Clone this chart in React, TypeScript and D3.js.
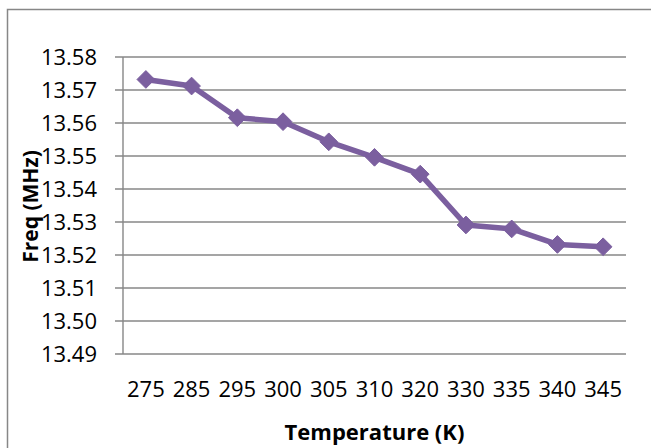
import React from "react";
import * as d3 from "d3";

const categories = ["275", "285", "295", "300", "305", "310", "320", "330", "335", "340", "345"];
const freqValues = [13.5732, 13.5712, 13.5616, 13.5604, 13.5543, 13.5496, 13.5445, 13.5291, 13.5279, 13.5232, 13.5225];
const yTicks = [13.49, 13.5, 13.51, 13.52, 13.53, 13.54, 13.55, 13.56, 13.57, 13.58];
const xTitle = "Temperature (K)";
const yTitle = "Freq (MHz)";

const W = 651;
const H = 448;
const M = { left: 123, right: 626, top: 57, bottom: 354 };
const FONT = "'Open Sans', sans-serif";
const PURPLE = "#7b5f9f";
const GRID = "#878787";

export default function App() {
  const x = d3.scaleBand<string>().domain(categories).range([M.left, M.right]);
  const y = d3.scaleLinear().domain([13.49, 13.58]).range([M.bottom, M.top]);
  const cx = (c: string) => (x(c) as number) + x.bandwidth() / 2;
  const line = d3
    .line<number>()
    .x((_, i) => cx(categories[i]))
    .y((d) => y(d));
  const diamond = d3.symbol().type(d3.symbolDiamond2).size(200)();

  return (
    <svg
      width={W}
      height={H}
      style={{ position: "absolute", left: 0, top: 0, background: "#fff" }}
    >
      <rect x={0} y={0} width={W} height={H} fill="#fff" />
      {/* outer chart border (cropped) */}
      <path d={`M7.5,${H}V9.5H${W}`} fill="none" stroke={GRID} strokeWidth={1.5} />
      {/* gridlines & y ticks */}
      {yTicks.map((t) => (
        <g key={t}>
          <line x1={M.left - 8} x2={M.right} y1={y(t)} y2={y(t)} stroke={GRID} strokeWidth={1.4} />
          <text
            x={97}
            y={y(t)}
            dy="0.36em"
            textAnchor="end"
            fontFamily={FONT}
            fontSize={22}
            fill="#000"
          >
            {t.toFixed(2)}
          </text>
        </g>
      ))}
      {/* y axis line */}
      <line x1={M.left} x2={M.left} y1={M.top} y2={M.bottom} stroke={GRID} strokeWidth={1.4} />
      {/* x labels */}
      {categories.map((c) => (
        <text
          key={c}
          x={cx(c)}
          y={397}
          textAnchor="middle"
          fontFamily={FONT}
          fontSize={22}
          fill="#000"
        >
          {c}
        </text>
      ))}
      {/* line series */}
      <path d={line(freqValues) || ""} fill="none" stroke={PURPLE} strokeWidth={5.5} strokeLinejoin="round" />
      {freqValues.map((v, i) => (
        <path
          key={i}
          d={diamond || ""}
          transform={`translate(${cx(categories[i])},${y(v)})`}
          fill={PURPLE}
          stroke={PURPLE}
          strokeWidth={1}
        />
      ))}
      {/* axis titles */}
      <text
        x={(M.left + M.right) / 2}
        y={440}
        textAnchor="middle"
        fontFamily={FONT}
        fontWeight="bold"
        fontSize={22}
        fill="#000"
      >
        {xTitle}
      </text>
      <text
        transform={`translate(38,${(M.top + M.bottom) / 2 + 1}) rotate(-90)`}
        textAnchor="middle"
        fontFamily={FONT}
        fontWeight="bold"
        fontSize={21}
        fill="#000"
      >
        {yTitle}
      </text>
    </svg>
  );
}
